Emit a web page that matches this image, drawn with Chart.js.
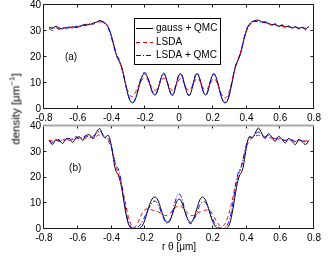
<!DOCTYPE html>
<html><head><meta charset="utf-8">
<script src="https://cdn.jsdelivr.net/npm/chart.js@4/dist/chart.umd.min.js"></script>
<style>
html,body{margin:0;padding:0;background:#fff;}
#wrap{position:relative;width:332px;height:259px;overflow:hidden;background:#fff;font-family:"Liberation Sans",Arial,sans-serif;}
canvas{position:absolute;left:0;}
#c1{top:0}
#c2{top:121px}
#ylab{position:absolute;left:16px;top:109px;transform:translate(-50%,-50%) rotate(-90deg);font-size:11.5px;white-space:nowrap;color:#000;line-height:13px;}
#ylab sup{font-size:8px;line-height:0;}
</style></head>
<body><div id="wrap">
<canvas id="c1" width="332" height="125"></canvas>
<canvas id="c2" width="332" height="138"></canvas>
<div id="ylab">density [μm<sup>−1</sup>]</div>
</div>
<script>
// ---- data ----
const X = [-0.77,-0.75,-0.73,-0.71,-0.69,-0.67,-0.65,-0.63,-0.61,-0.59,-0.57,-0.55,-0.53,-0.51,-0.49,-0.47,-0.45,
 -0.44,-0.43,-0.42,-0.41,-0.40,-0.39,-0.38,-0.37,-0.36,-0.35,
 -0.34,-0.33,-0.32,-0.31,-0.30,-0.29,-0.28,-0.27,-0.26,-0.25,
 -0.24,-0.23,-0.22,-0.21,-0.20,-0.19,-0.18,-0.17,-0.16,-0.15,
 -0.14,-0.13,-0.12,-0.11,-0.10,-0.09,-0.08,-0.07,-0.06,-0.05,
 -0.04,-0.03,-0.02,-0.01,0.00,0.01,0.02,0.03,0.04,0.05,
 0.06,0.07,0.08,0.09,0.10,0.11,0.12,0.13,0.14,0.15,
 0.16,0.17,0.18,0.19,0.20,0.21,0.22,0.23,0.24,0.25,
 0.26,0.27,0.28,0.29,0.30,0.31,0.32,0.33,0.34,0.35,
 0.36,0.37,0.38,0.39,0.40,0.41,0.42,0.43,0.44,
 0.45,0.47,0.49,0.51,0.53,0.55,0.57,0.59,0.61,0.63,0.65,0.67,0.69,0.71,0.73,0.75,0.77];

const SERIES_NAMES = ['gauss + QMC', 'LSDA', 'LSDA + QMC'];
const PANEL_LABELS = ['(a)', '(b)'];
const X_TICKS = [-0.8,-0.6,-0.4,-0.2,0,0.2,0.4,0.6,0.8];
const Y_TICKS = [0,10,20,30,40];
const X_TITLE = 'r θ [μm]';

// panel (a)
const GA = [31.5,31.0,31.8,31.2,30.8,31.4,31.2,31.6,31.3,31.8,32.2,32.6,32.4,33.0,33.4,34.0,33.6,
 33.2,32.6,31.6,30.0,28.0,25.6,23.0,20.5,19.0,17.8,
 16.0,13.5,10.5,7.5,5.0,3.2,2.4,2.5,3.6,5.4,
 7.8,10.2,12.2,13.3,13.5,12.6,11.0,8.8,6.8,5.6,
 5.4,6.5,8.6,11.0,13.0,13.5,12.5,10.4,8.0,6.0,
 5.2,6.0,8.5,11.0,13.0,13.4,12.4,10.2,7.8,5.8,
 5.2,6.2,8.5,11.2,13.2,13.5,12.2,10.0,7.5,5.8,
 5.4,6.5,9.0,11.5,13.2,13.4,12.2,10.0,7.5,5.0,
 3.2,2.4,2.5,3.6,5.8,8.8,12.0,15.2,17.4,18.8,
 20.4,22.6,25.4,28.0,30.2,31.8,32.8,33.4,33.8,
 34.0,34.2,33.6,33.2,33.0,32.4,32.6,31.8,32.2,31.6,31.8,31.2,31.6,31.0,31.4,30.8,31.8];
const LA = [31.2,31.4,31.3,31.0,31.2,31.3,31.4,31.5,31.6,31.8,32.0,32.3,32.6,32.9,33.2,33.5,33.4,
 33.0,32.4,31.4,29.8,27.8,25.4,23.0,20.8,19.2,17.6,
 15.6,13.2,10.6,8.2,6.4,5.2,4.8,5.2,6.2,7.6,
 9.0,10.2,11.2,11.8,12.0,11.6,10.6,9.4,8.2,7.4,
 7.2,7.8,9.0,10.4,11.4,11.8,11.4,10.2,8.8,7.6,
 7.2,7.6,8.8,10.2,11.2,11.6,11.0,9.8,8.4,7.4,
 7.2,7.8,9.0,10.4,11.4,11.6,11.0,9.8,8.4,7.6,
 7.4,8.0,9.2,10.4,11.4,11.6,10.8,9.2,7.6,6.0,
 4.8,4.2,4.4,5.4,7.2,9.6,12.2,14.8,17.0,18.8,
 20.8,23.0,25.6,28.0,30.0,31.4,32.4,33.0,33.4,
 33.6,33.8,33.5,33.1,32.8,32.5,32.3,32.0,31.8,31.6,31.5,31.4,31.3,31.2,31.2,31.1,31.3];
const QA = [31.0,30.2,31.4,30.6,31.5,30.8,31.6,31.0,31.9,31.4,32.4,32.0,32.9,32.6,33.5,33.8,33.4,
 33.0,32.4,31.2,29.6,27.4,25.0,22.6,20.8,19.8,18.2,
 16.2,13.6,10.6,7.6,5.2,3.4,2.6,2.7,3.8,5.8,
 8.4,11.0,12.9,13.9,14.0,13.0,11.2,9.0,7.0,5.9,
 5.7,6.8,8.8,11.2,13.2,13.8,12.8,10.6,8.2,6.2,
 5.6,6.4,8.8,11.4,13.4,13.8,12.6,10.2,7.6,5.8,
 5.4,6.4,8.8,11.4,13.4,13.6,12.2,9.8,7.4,5.8,
 5.6,6.8,9.4,11.8,13.4,13.4,12.0,9.8,7.2,4.8,
 3.2,2.6,2.8,4.0,6.2,9.2,12.4,15.4,17.6,19.2,
 20.8,23.0,25.8,28.4,30.6,32.0,32.8,33.2,33.6,
 33.8,33.6,33.2,33.6,32.8,32.2,32.8,31.6,32.4,31.2,32.0,30.8,31.8,30.6,31.6,30.4,32.0];

// panel (b)
const GB = [34.5,32.8,34.6,34.4,33.2,35.0,35.2,33.6,35.4,35.8,34.4,36.4,36.6,35.0,37.5,39.0,36.2,
 35.6,36.0,36.4,35.0,32.0,28.0,24.0,22.0,21.0,19.0,
 16.0,12.0,8.0,4.5,2.0,0.7,0.2,0.0,0.0,0.0,
 0.1,0.4,1.0,2.2,4.0,6.2,8.4,10.2,11.6,12.3,
 12.4,11.8,10.4,8.4,6.2,4.4,3.2,2.6,2.8,3.8,
 5.6,7.6,9.6,11.0,11.6,11.2,9.8,7.8,5.8,4.0,
 2.9,2.6,3.2,4.6,6.6,8.8,10.8,12.0,12.4,12.0,
 10.8,9.0,6.8,4.6,2.8,1.5,0.6,0.2,0.0,0.0,
 0.0,0.1,0.2,0.7,2.0,4.5,8.0,12.0,16.0,19.0,
 21.0,22.0,24.0,28.0,32.0,35.0,36.0,35.6,35.8,
 37.0,39.2,37.2,35.2,37.0,35.8,34.0,36.0,34.8,33.4,35.2,34.0,32.8,34.8,33.8,32.8,34.4];
const LB = [34.6,34.2,34.4,34.8,34.6,34.6,35.0,34.8,35.0,35.4,35.0,35.4,35.8,35.4,36.0,36.6,36.0,
 35.4,35.0,34.4,33.0,31.2,28.8,26.0,23.5,21.5,19.5,
 17.0,14.0,10.8,7.6,4.8,2.6,1.2,0.6,0.8,1.6,
 3.0,4.6,6.0,7.0,7.6,7.8,7.8,7.6,7.4,7.2,
 7.0,6.8,6.6,6.2,5.8,5.4,5.2,5.2,5.6,6.2,
 7.0,7.8,8.4,8.8,9.0,8.8,8.4,7.8,7.0,6.2,
 5.6,5.2,5.2,5.4,5.8,6.2,6.6,6.8,7.0,7.2,
 7.4,7.4,7.2,6.6,5.6,4.4,3.2,2.2,1.4,1.0,
 1.2,1.8,3.0,4.8,7.0,9.6,12.6,15.6,18.2,20.4,
 22.4,24.6,27.2,29.8,32.0,33.6,34.6,35.2,35.6,
 36.0,36.4,36.0,35.4,35.6,35.2,34.8,35.0,34.8,34.4,34.6,34.6,34.2,34.4,34.6,34.2,34.6];
const QB = [34.2,33.6,34.8,34.0,34.6,35.2,34.4,35.0,35.8,35.0,35.6,36.2,35.4,36.0,37.0,38.0,36.6,
 35.8,35.4,35.2,34.0,32.0,29.0,26.0,24.2,23.4,21.0,
 17.4,13.2,9.0,5.4,2.8,1.2,0.5,0.3,0.4,0.6,
 1.0,1.6,2.6,3.8,5.2,6.6,8.0,9.2,10.2,10.8,
 10.8,10.2,9.0,7.4,5.6,4.0,2.8,2.2,2.6,4.0,
 6.2,8.8,11.2,13.0,13.6,13.0,11.2,8.6,6.0,3.8,
 2.4,2.0,2.6,3.8,5.4,7.2,8.8,10.0,10.6,10.6,
 10.0,8.8,7.2,5.4,3.8,2.4,1.4,0.8,0.5,0.3,
 0.3,0.5,1.0,2.0,3.8,6.6,10.4,14.8,18.8,21.6,
 23.0,24.4,27.0,30.2,33.0,34.8,35.6,35.4,35.8,
 36.6,37.6,36.6,35.8,36.4,35.6,35.0,35.6,34.8,34.4,35.0,34.4,34.0,34.6,34.2,33.8,34.6];

// ---- styling ----
const STYLES = [
  {color:'#000000', dash:[], order:2},
  {color:'#ff0000', dash:[4,3], order:1},
  {color:'#0000ff', dash:[5,2,1,2], order:0}
];
Chart.defaults.font.family = '"Liberation Sans", Arial, Helvetica, sans-serif';
Chart.defaults.font.size = 10;
Chart.defaults.color = '#000';

function pts(ys){ return X.map((x,i)=>({x:x, y:ys[i]})); }

const boxPlugin = {
  id: 'mbox',
  afterDatasetsDraw(chart, args, opts) {
    const {ctx, chartArea:a, scales:{x, y}} = chart;
    ctx.save();
    ctx.strokeStyle = '#1a1a1a';
    ctx.lineWidth = 1;
    ctx.setLineDash([]);
    ctx.beginPath();
    const L = Math.round(a.left) - 0.5, R = Math.round(a.right) - 0.5;
    const T = Math.round(a.top) - 0.5, B = Math.round(a.bottom) - 0.5;
    x.ticks.forEach(t => {
      const px = Math.round(x.getPixelForValue(t.value)) - 0.5;
      ctx.moveTo(px, B); ctx.lineTo(px, B - 3);
      ctx.moveTo(px, T); ctx.lineTo(px, T + 3);
    });
    y.ticks.forEach(t => {
      const py = Math.round(y.getPixelForValue(t.value)) - 0.5;
      ctx.moveTo(L, py); ctx.lineTo(L + 3, py);
      ctx.moveTo(R, py); ctx.lineTo(R - 3, py);
    });
    ctx.moveTo(L, T); ctx.lineTo(L, B); ctx.lineTo(R, B); ctx.lineTo(R, T);
    if (!opts.grayTop) ctx.lineTo(L, T);
    ctx.stroke();
    if (opts.grayTop) {
      ctx.beginPath();
      ctx.strokeStyle = '#a8a8a8';
      ctx.lineWidth = 2;
      ctx.moveTo(L - 0.5, T); ctx.lineTo(R + 0.5, T);
      ctx.stroke();
    }
    // panel label
    ctx.fillStyle = '#000';
    ctx.font = '10px "Liberation Sans", Arial, sans-serif';
    ctx.textAlign = 'center';
    ctx.textBaseline = 'middle';
    ctx.fillText(opts.label, x.getPixelForValue(opts.lx), y.getPixelForValue(opts.ly));
    // legend
    if (opts.legend) {
      const lg = opts.legend;
      ctx.fillStyle = '#fff';
      ctx.fillRect(lg.left, lg.top, lg.w, lg.h);
      ctx.strokeStyle = '#000';
      ctx.lineWidth = 1;
      ctx.strokeRect(lg.left + 0.5, lg.top + 0.5, lg.w, lg.h);
      ctx.textAlign = 'left';
      SERIES_NAMES.forEach((name, i) => {
        const yy = Math.round(lg.top + lg.first + i * lg.step) + 0.5;
        ctx.beginPath();
        ctx.strokeStyle = STYLES[i].color;
        ctx.setLineDash(STYLES[i].dash);
        ctx.moveTo(lg.left + 2, yy); ctx.lineTo(lg.left + 19, yy);
        ctx.stroke();
        ctx.setLineDash([]);
        ctx.fillStyle = '#000';
        ctx.fillText(name, lg.left + 22, yy);
      });
    }
    ctx.restore();
  }
};

function makeChart(id, series, label, lx, ly, xh, withTitle, legend, grayTop) {
  return new Chart(document.getElementById(id), {
    type: 'line',
    data: {
      datasets: series.map((s, i) => ({
        label: SERIES_NAMES[i],
        data: pts(s),
        borderColor: STYLES[i].color,
        borderDash: STYLES[i].dash,
        borderWidth: 1,
        pointRadius: 0,
        fill: false,
        cubicInterpolationMode: 'monotone',
        order: STYLES[i].order
      }))
    },
    options: {
      responsive: false,
      animation: false,
      devicePixelRatio: 1,
      layout: {padding: {top: 5, right: 18, left: 0, bottom: 0}},
      plugins: {
        legend: {display: false},
        tooltip: {enabled: false},
        mbox: {label: label, lx: lx, ly: ly, legend: legend, grayTop: grayTop}
      },
      scales: {
        x: {
          type: 'linear', min: -0.8, max: 0.8,
          afterBuildTicks: s => { s.ticks = X_TICKS.map(v => ({value: v})); },
          afterFit: s => { s.height = xh; s.paddingLeft = 0; s.paddingRight = 0; },
          grid: {display: false, drawTicks: false},
          border: {display: false},
          ticks: {padding: 3, maxRotation: 0, autoSkip: false, color: '#000',
                  callback: v => (Math.abs(v) < 1e-9 ? '0' : String(v))},
          title: withTitle ? {display: true, text: X_TITLE, color: '#000', font: {size: 10}, padding: {top: 0, bottom: 6}} : {display: false}
        },
        y: {
          min: 0, max: 40,
          afterBuildTicks: s => { s.ticks = Y_TICKS.map(v => ({value: v})); },
          afterFit: s => { s.width = 44; s.paddingTop = 0; s.paddingBottom = 0; },
          grid: {display: false, drawTicks: false},
          border: {display: false},
          ticks: {padding: 3, color: '#000'}
        }
      }
    },
    plugins: [boxPlugin]
  });
}

makeChart('c1', [GA, LA, QA], PANEL_LABELS[0], -0.64, 20, 16, false,
  {left: 134, top: 18, w: 86, h: 46, first: 10, step: 13.5}, false);
makeChart('c2', [GB, LB, QB], PANEL_LABELS[1], -0.615, 23.5, 30, true, null, true);
</script>
</body></html>
